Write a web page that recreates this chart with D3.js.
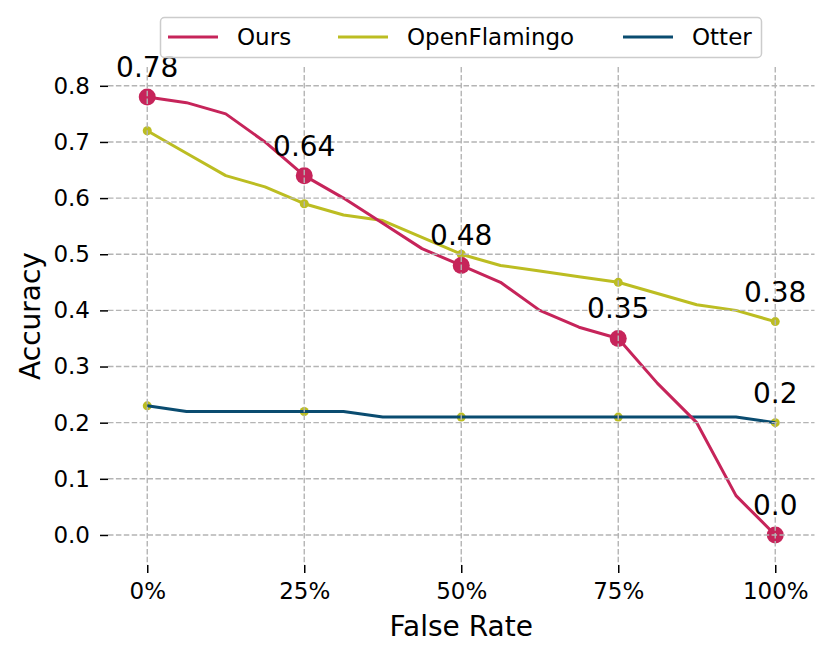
<!DOCTYPE html>
<html>
<head>
<meta charset="utf-8">
<script src="https://cdn.jsdelivr.net/npm/d3@7"></script>
<style>
  html, body { margin: 0; padding: 0; background: #fff; }
  svg { display: block; font-family: "DejaVu Sans", sans-serif; }
</style>
</head>
<body>
<svg id="chart" width="832" height="659"></svg>
<script>
// ---- data ----
const falseRate = [0, 6.25, 12.5, 18.75, 25, 31.25, 37.5, 43.75, 50, 56.25, 62.5, 68.75, 75, 81.25, 87.5, 93.75, 100];
const ours = [0.78, 0.77, 0.75, 0.70, 0.64, 0.60, 0.555, 0.51, 0.48, 0.45, 0.40, 0.37, 0.35, 0.27, 0.20, 0.07, 0.0];
const openFlamingo = [0.72, 0.68, 0.64, 0.62, 0.59, 0.57, 0.56, 0.53, 0.50, 0.48, 0.47, 0.46, 0.45, 0.43, 0.41, 0.40, 0.38];
const otter = [0.23, 0.22, 0.22, 0.22, 0.22, 0.22, 0.21, 0.21, 0.21, 0.21, 0.21, 0.21, 0.21, 0.21, 0.21, 0.21, 0.20];
const seriesNames = ["Ours", "OpenFlamingo", "Otter"];
const markerRates = [0, 25, 50, 75, 100];
const xTickValues = [0, 25, 50, 75, 100];
const xTickLabels = ["0%", "25%", "50%", "75%", "100%"];
const yTickValues = [0.0, 0.1, 0.2, 0.3, 0.4, 0.5, 0.6, 0.7, 0.8];
const oursLabels = ["0.78", "0.64", "0.48", "0.35", "0.0"];
const openFlamingoLabel = "0.38";
const otterLabel = "0.2";

const colors = { Ours: "#c6245a", OpenFlamingo: "#bcbd22", Otter: "#0a4c70" };

const svg = d3.select("#chart");
const x = d3.scaleLinear().domain([-6.25, 106.25]).range([108, 814.5]);
const y = d3.scaleLinear().domain([-0.0535, 0.8335]).range([565, 67]);

const rows = falseRate.map((r, i) => ({ r, ours: ours[i], of: openFlamingo[i], otter: otter[i] }));
const markerRows = rows.filter(d => markerRates.includes(d.r));

const plot = svg.append("g");

function drawLine(key, color) {
  plot.append("path")
    .datum(rows)
    .attr("fill", "none")
    .attr("stroke", color)
    .attr("stroke-width", 3)
    .attr("stroke-linejoin", "round")
    .attr("d", d3.line().x(d => x(d.r)).y(d => y(d[key])));
}

// Otter markers drawn below its line
plot.selectAll(".otm").data(markerRows).join("circle")
  .attr("cx", d => x(d.r)).attr("cy", d => y(d.otter)).attr("r", 4.5)
  .attr("fill", colors.OpenFlamingo);
drawLine("otter", colors.Otter);

drawLine("of", colors.OpenFlamingo);
plot.selectAll(".ofm").data(markerRows).join("circle")
  .attr("cx", d => x(d.r)).attr("cy", d => y(d.of)).attr("r", 4.5)
  .attr("fill", colors.OpenFlamingo);

drawLine("ours", colors.Ours);
plot.selectAll(".oum").data(markerRows).join("circle")
  .attr("cx", d => x(d.r)).attr("cy", d => y(d.ours)).attr("r", 8.5)
  .attr("fill", colors.Ours);

// grid on top
const grid = svg.append("g").attr("stroke", "#b4b4b4").attr("stroke-width", 1.4)
  .attr("stroke-dasharray", "5.5,2.4");
grid.selectAll(".gx").data(xTickValues).join("line")
  .attr("x1", d => x(d)).attr("x2", d => x(d))
  .attr("y1", y.range()[1]).attr("y2", y.range()[0]);
grid.selectAll(".gy").data(yTickValues).join("line")
  .attr("y1", d => y(d)).attr("y2", d => y(d))
  .attr("x1", x.range()[0]).attr("x2", x.range()[1]);

// axes
const xAxis = svg.append("g").attr("transform", `translate(0,${y.range()[0]})`)
  .call(d3.axisBottom(x).tickValues(xTickValues).tickFormat((d, i) => xTickLabels[i])
    .tickSize(8).tickPadding(10));
const yAxis = svg.append("g").attr("transform", `translate(${x.range()[0]},0)`)
  .call(d3.axisLeft(y).tickValues(yTickValues).tickFormat(d3.format(".1f"))
    .tickSize(8).tickPadding(10));
[xAxis, yAxis].forEach(a => {
  a.select(".domain").remove();
  a.selectAll(".tick line").attr("stroke", "#000").attr("stroke-width", 1.5);
  a.selectAll(".tick text").attr("fill", "#000").style("font-size", "23px")
    .style("font-family", "'DejaVu Sans', sans-serif");
});

// axis labels
svg.append("text").attr("x", x(50)).attr("y", 636).attr("text-anchor", "middle")
  .style("font-size", "28px").text("False Rate");
svg.append("text").attr("transform", `translate(40,${(y.range()[0] + y.range()[1]) / 2}) rotate(-90)`)
  .attr("text-anchor", "middle").style("font-size", "28px").text("Accuracy");

// annotations
const ann = svg.append("g").style("font-size", "28px").attr("text-anchor", "middle").attr("fill", "#000");
markerRows.forEach((d, i) => {
  ann.append("text").attr("x", x(d.r)).attr("y", y(d.ours) - 20).text(oursLabels[i]);
});
const last = rows[rows.length - 1];
ann.append("text").attr("x", x(last.r)).attr("y", y(last.of) - 20).text(openFlamingoLabel);
ann.append("text").attr("x", x(last.r)).attr("y", y(last.otter) - 20).text(otterLabel);

// legend
const lg = svg.append("g");
lg.append("rect").attr("x", 160.5).attr("y", 17.5).attr("width", 601).attr("height", 40)
  .attr("rx", 4).attr("fill", "#fff").attr("fill-opacity", 0.8)
  .attr("stroke", "#cccccc").attr("stroke-width", 1.5);
const legendLineX = [168, 338, 623];
seriesNames.forEach((name, i) => {
  lg.append("line").attr("x1", legendLineX[i]).attr("x2", legendLineX[i] + 50)
    .attr("y1", 37).attr("y2", 37).attr("stroke", colors[name]).attr("stroke-width", 3);
  lg.append("text").attr("x", legendLineX[i] + 69).attr("y", 37).attr("dy", "0.36em")
    .style("font-size", "23px").attr("fill", "#000").text(name);
});
</script>
</body>
</html>
